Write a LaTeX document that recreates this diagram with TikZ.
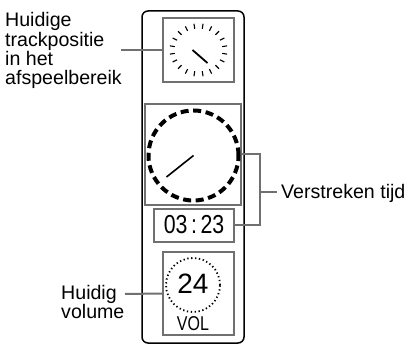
\documentclass[tikz,border=0pt]{standalone}
\usepackage{fontspec}
\setmainfont{Liberation Sans}
\definecolor{boxgray}{RGB}{112,112,112}
\begin{document}
\begin{tikzpicture}[x=1pt,y=-1pt,
  gbox/.style={draw=boxgray,line width=2pt,inner sep=0pt},
  conn/.style={draw=boxgray,line width=2pt},
  lbl/.style={font=\fontsize{19.6}{19.3}\selectfont,align=left,inner sep=0pt},
  tick/.style={line width=1.1pt},
  hand/.style={line width=1.8pt}]
\useasboundingbox (0,0) rectangle (414,344);
% outer frame
\node[draw=black,line width=1.5pt,rounded corners=6pt,minimum width=102pt,minimum height=332pt,inner sep=0pt] (outer) at (193,177) {};
% boxes
\node[gbox,minimum width=71pt,minimum height=64pt] (clk) at (198.5,50) {};
\node[gbox,minimum width=96pt,minimum height=101pt] (big) at (193,154.5) {};
\node[gbox,minimum width=80pt,minimum height=33pt] (time) at (194,225.5) {};
\node[gbox,minimum width=71pt,minimum height=83pt] (vol) at (198.5,293.5) {};
% small clock
\foreach \a in {9,27,...,351}
  \draw[tick] ([shift={({24*cos(\a)},{21.5*sin(\a)})}]clk.center) -- ([shift={({29*cos(\a)},{26.5*sin(\a)})}]clk.center);
\draw[hand] ([shift={(-6,0)}]clk.center) -- ([shift={(9,13)}]clk.center);
% big clock
\coordinate (bc) at (193.5,155.5);
\draw[line width=4pt,dash pattern=on 8pt off 4.6pt] (bc) circle (45pt);
\draw[line width=1.6pt] (bc) -- ([shift={(-27,21.5)}]bc);
% time
\node[font=\fontsize{26}{26}\selectfont,inner sep=0pt] (ttxt) at ([yshift=0.5pt]time.center) {\scalebox{0.82}[1]{03\,:\,23}};
% volume
\coordinate (vc) at (193,285);
\draw[line width=1.8pt,dash pattern=on 1.3pt off 2.6pt] (vc) circle (27pt);
\node[font=\fontsize{28}{28}\selectfont,inner sep=0pt] (vnum) at (193,284) {24};
\node[font=\fontsize{20}{20}\selectfont,inner sep=0pt] (vlab) at (193,324) {\scalebox{0.8}[1]{VOL}};
% labels
\node[lbl,anchor=north west] (l1) at (5,12.5) {Huidige\\trackpositie\\in het\\afspeelbereik};
\node[lbl,anchor=north west] (l2) at (61,285) {Huidig\\volume};
\node[lbl,anchor=base west] (l3) at (281,199) {Verstreken tijd};
% connectors
\coordinate (c1) at (121,50);
\draw[conn] (c1) -- (clk.west);
\coordinate (c2) at (125,294);
\draw[conn] (c2) -- (vol.west);
\coordinate (b1) at (260,154.5);
\coordinate (b2) at (260,225.5);
\coordinate (b3) at (260,192);
\coordinate (b4) at (277,192);
\draw[conn] (big.east) -- (b1) -- (b2) -- (time.east);
\draw[conn] (b3) -- (b4);
\end{tikzpicture}
\end{document}
